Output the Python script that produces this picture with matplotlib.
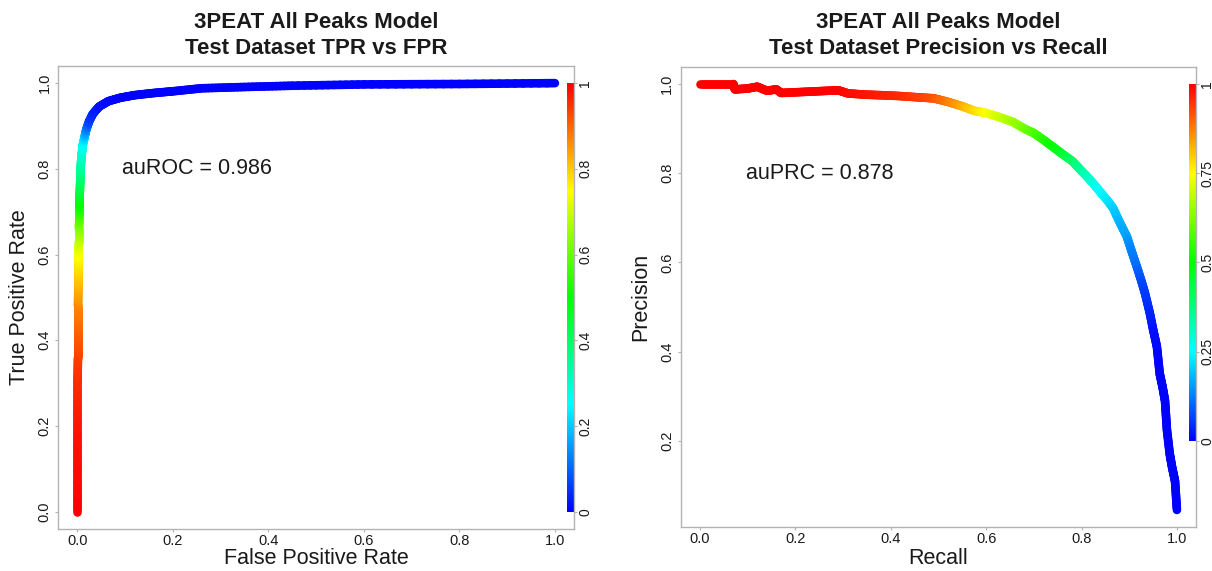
import numpy as np
import matplotlib
matplotlib.use("Agg")
import matplotlib.pyplot as plt
from matplotlib.collections import LineCollection
from matplotlib.colors import LinearSegmentedColormap

# ---------------- data ----------------
roc_fpr = [0.000, 0.000, 0.000, 0.000, 0.001, 0.001, 0.001, 0.002, 0.002, 0.002,
           0.003, 0.003, 0.004, 0.004, 0.005, 0.006, 0.007, 0.009, 0.011, 0.014,
           0.018, 0.024, 0.032, 0.045, 0.065, 0.090, 0.120, 0.160, 0.200, 0.260,
           0.350, 0.450, 0.600, 0.800, 1.000]
roc_tpr = [0.000, 0.100, 0.200, 0.300, 0.360, 0.420, 0.480, 0.530, 0.570, 0.600,
           0.630, 0.660, 0.690, 0.720, 0.750, 0.780, 0.810, 0.835, 0.855, 0.870,
           0.890, 0.910, 0.928, 0.945, 0.958, 0.966, 0.972, 0.977, 0.981, 0.988,
           0.991, 0.994, 0.997, 0.998, 1.000]
roc_score = [1.00, 0.99, 0.98, 0.96, 0.94, 0.91, 0.87, 0.82, 0.78, 0.75,
             0.70, 0.64, 0.57, 0.50, 0.44, 0.39, 0.34, 0.30, 0.26, 0.22,
             0.14, 0.07, 0.04, 0.02, 0.01, 0.005, 0.0, 0.0, 0.0, 0.0,
             0.0, 0.0, 0.0, 0.0, 0.0]

pr_recall = [0.000, 0.070, 0.073, 0.100, 0.120, 0.140, 0.160, 0.170, 0.210, 0.250,
             0.290, 0.310, 0.350, 0.380, 0.420, 0.460, 0.490, 0.520, 0.550, 0.575,
             0.600, 0.630, 0.656, 0.680, 0.700, 0.720, 0.740, 0.760, 0.782, 0.800,
             0.812, 0.826, 0.840, 0.855, 0.866, 0.880, 0.895, 0.905, 0.916, 0.925,
             0.933, 0.943, 0.950, 0.958, 0.964, 0.970, 0.975, 0.979, 0.985, 0.990,
             0.996, 1.000]
pr_precision = [1.000, 1.000, 0.988, 0.990, 0.994, 0.985, 0.988, 0.980, 0.982, 0.984,
                0.986, 0.979, 0.976, 0.975, 0.973, 0.970, 0.968, 0.960, 0.950, 0.940,
                0.935, 0.925, 0.915, 0.900, 0.890, 0.875, 0.859, 0.843, 0.826, 0.805,
                0.792, 0.775, 0.757, 0.738, 0.722, 0.690, 0.658, 0.625, 0.590, 0.560,
                0.531, 0.487, 0.450, 0.411, 0.350, 0.320, 0.290, 0.225, 0.170, 0.140,
                0.110, 0.045]
pr_score = [1.00, 1.00, 1.00, 1.00, 1.00, 1.00, 1.00, 1.00, 1.00, 1.00,
            1.00, 0.99, 0.98, 0.97, 0.96, 0.94, 0.92, 0.88, 0.83, 0.79,
            0.75, 0.70, 0.66, 0.62, 0.58, 0.54, 0.50, 0.46, 0.40, 0.35,
            0.32, 0.28, 0.25, 0.23, 0.21, 0.18, 0.16, 0.13, 0.11, 0.08,
            0.06, 0.04, 0.02, 0.01, 0.0, 0.0, 0.0, 0.0, 0.0, 0.0,
            0.0, 0.0]

roc_cbar_ticks = [0, 0.2, 0.4, 0.6, 0.8, 1]
roc_cbar_labels = ["0", "0.2", "0.4", "0.6", "0.8", "1"]
pr_cbar_ticks = [0, 0.25, 0.5, 0.75, 1]
pr_cbar_labels = ["0", "0.25", "0.5", "0.75", "1"]

roc_title = ["3PEAT All Peaks Model", "Test Dataset TPR vs FPR"]
pr_title = ["3PEAT All Peaks Model", "Test Dataset Precision vs Recall"]
roc_auc_text = "auROC = 0.986"
pr_auc_text = "auPRC = 0.878"

# ---------------- style ----------------
plt.rcParams["font.family"] = ["Liberation Sans", "DejaVu Sans"]
cmap = LinearSegmentedColormap.from_list(
    "rainbow_r", ["#0000FF", "#00FFFF", "#00FF00", "#FFFF00", "#FF0000"])
SPINE = "#b3b3b3"
TXT = "#1a1a1a"
W, H = 1212, 571

fig = plt.figure(figsize=(W / 100, H / 100), dpi=100)


def px_axes(l, t, r, b):
    return fig.add_axes([l / W, 1 - b / H, (r - l) / W, (b - t) / H])


def colored_line(ax, x, y, s, sub=12):
    # draw each data segment as a colour gradient (rendering only)
    x = np.asarray(x, float)
    y = np.asarray(y, float)
    s = np.asarray(s, float)
    segs, cols = [], []
    t = np.linspace(0, 1, sub + 1)
    for i in range(len(x) - 1):
        xs = x[i] + (x[i + 1] - x[i]) * t
        ys = y[i] + (y[i + 1] - y[i]) * t
        ss = s[i] + (s[i + 1] - s[i]) * t
        for j in range(sub):
            segs.append([(xs[j], ys[j]), (xs[j + 1], ys[j + 1])])
            cols.append((ss[j] + ss[j + 1]) / 2)
    lc = LineCollection(segs, colors=cmap(np.array(cols)), linewidths=6.2,
                        capstyle="round", joinstyle="round", zorder=3)
    ax.add_collection(lc)


def style(ax, xlim, ylim, yticks):
    ax.set_xlim(*xlim)
    ax.set_ylim(*ylim)
    for sp in ax.spines.values():
        sp.set_color(SPINE)
        sp.set_linewidth(1.0)
    ax.set_xticks([0, 0.2, 0.4, 0.6, 0.8, 1.0])
    ax.set_xticklabels(["0.0", "0.2", "0.4", "0.6", "0.8", "1.0"])
    ax.set_yticks(yticks)
    ax.set_yticklabels(["%.1f" % v for v in yticks], rotation=90, va="center")
    ax.tick_params(axis="both", colors=SPINE, labelcolor=TXT, labelsize=10.5,
                   length=2.5, width=0.8)
    ax.tick_params(axis="x", pad=1)
    ax.tick_params(axis="y", pad=2.5)


def colorbar_strip(ax, y0, y1, ticks, labels):
    grad = np.linspace(0, 1, 256).reshape(-1, 1)
    ax.imshow(grad, cmap=cmap, origin="lower", aspect="auto",
              extent=[1.026, 1.04, y0, y1], zorder=2)
    tw = ax.twinx()
    tw.set_ylim(ax.get_ylim())
    for sp in tw.spines.values():
        sp.set_visible(False)
    tw.set_yticks([y0 + (y1 - y0) * t for t in ticks])
    tw.set_yticklabels(labels, rotation=90, va="center")
    tw.tick_params(axis="y", colors=SPINE, labelcolor=TXT, labelsize=10,
                   length=2, width=0.8, pad=1)
    ax.set_xlim(-0.04, 1.04)


def titles(cx, lines):
    fig.text(cx / W, 1 - 22 / H, lines[0], ha="center", va="center",
             fontsize=16, fontweight="bold", color=TXT)
    fig.text(cx / W, 1 - 48 / H, lines[1], ha="center", va="center",
             fontsize=16, fontweight="bold", color=TXT)


def axis_labels(ax, xl, yl, cx, ylx):
    fig.text(cx / W, 1 - 558 / H, xl, ha="center", va="center",
             fontsize=15.5, color=TXT)
    fig.text(ylx / W, 1 - ((66 + 528) / 2) / H, yl, ha="center", va="center",
             rotation=90, fontsize=15.5, color=TXT)


# ---------------- ROC ----------------
ax1 = px_axes(58.4, 66, 574, 528.8)
colored_line(ax1, roc_fpr, roc_tpr, roc_score)
style(ax1, (-0.04, 1.04), (-0.04, 1.04), [0.0, 0.2, 0.4, 0.6, 0.8, 1.0])
colorbar_strip(ax1, 0.0, 1.0, roc_cbar_ticks, roc_cbar_labels)
ax1.text(0.25, 0.8, roc_auc_text, ha="center", va="center", fontsize=15.5, color=TXT)
axis_labels(ax1, "False Positive Rate", "True Positive Rate", 316, 20)
titles(316, roc_title)

# ---------------- PR ----------------
ymin, ymax = min(pr_precision), max(pr_precision)
pad = 0.04 * (ymax - ymin)
ax2 = px_axes(681, 67, 1196, 527)
colored_line(ax2, pr_recall, pr_precision, pr_score)
style(ax2, (-0.04, 1.04), (ymin - pad, ymax + pad), [0.2, 0.4, 0.6, 0.8, 1.0])
colorbar_strip(ax2, 0.2, 1.0, pr_cbar_ticks, pr_cbar_labels)
ax2.text(0.25, 0.8, pr_auc_text, ha="center", va="center", fontsize=15.5, color=TXT)
axis_labels(ax2, "Recall", "Precision", 938, 641)
titles(938, pr_title)

fig.savefig("out.png", dpi=100, facecolor="white")
